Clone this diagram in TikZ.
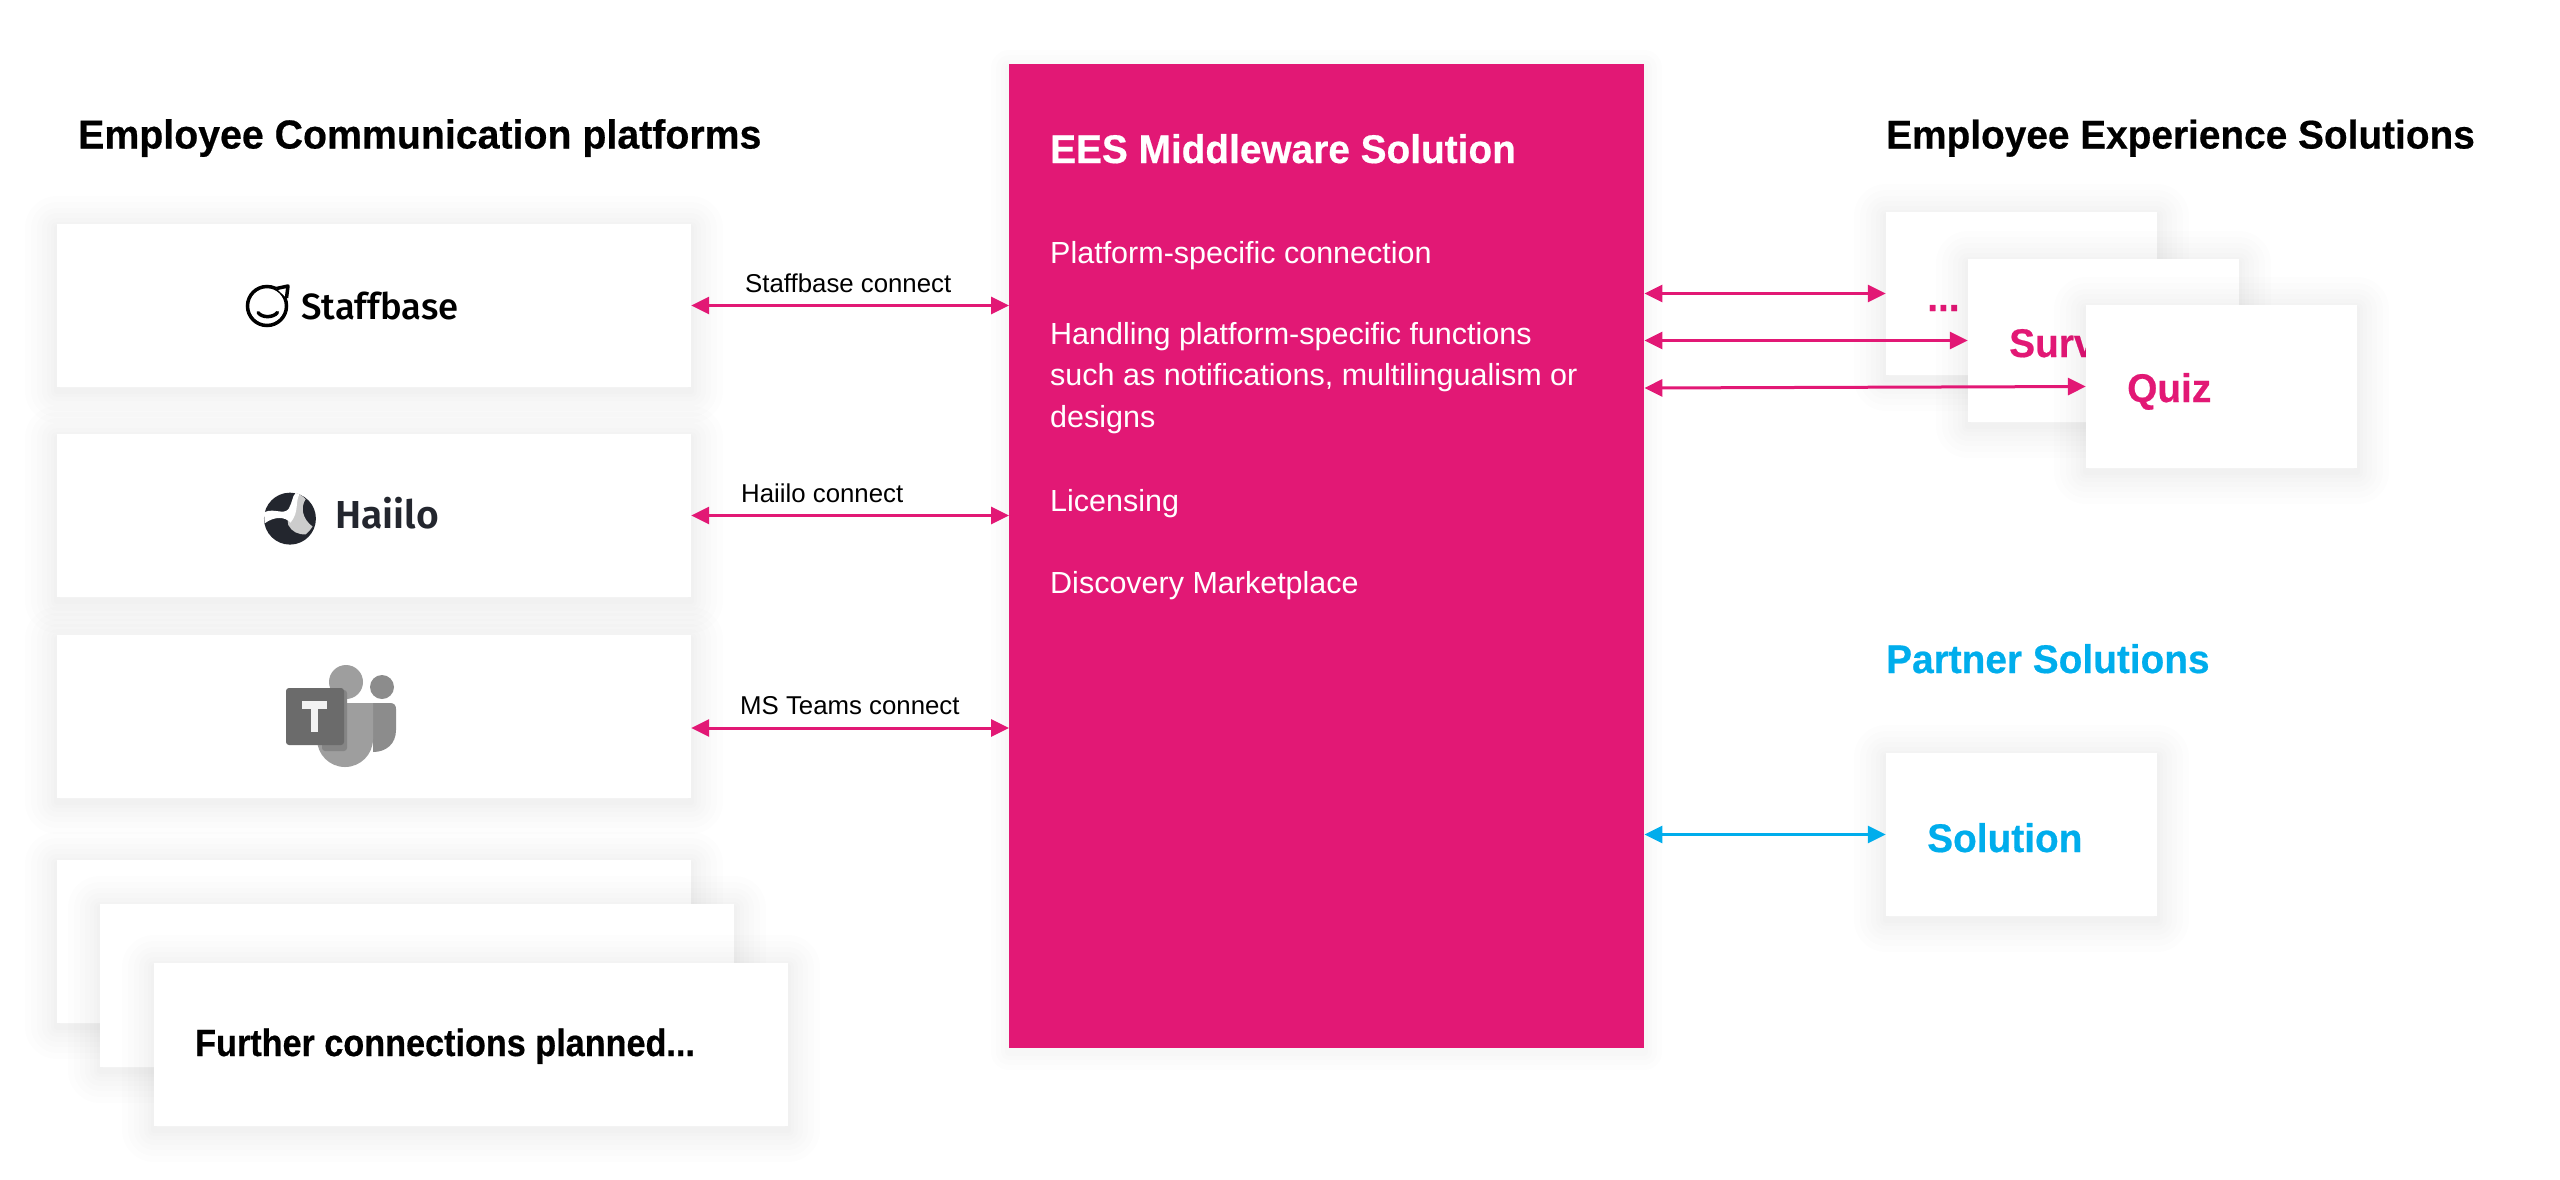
\documentclass[tikz,border=0pt]{standalone}
\usepackage{fontspec}
\usepackage{xcolor}
\usepackage{tikz}
\usetikzlibrary{arrows.meta,positioning}
\setmainfont{Liberation Sans}
\newfontfamily\headfont[FakeStretch=0.97,FakeBold=0.5]{Liberation Sans Bold}
\newfontfamily\furtherfont[FakeStretch=0.9,FakeBold=0.5]{Liberation Sans Bold}
\newfontfamily\logofont{Fira Sans Medium}
\newfontfamily\haiilofont{Fira Sans SemiBold}
\definecolor{eespink}{HTML}{E21875}
\definecolor{eesblue}{HTML}{00ADEC}
\definecolor{haiilodark}{HTML}{23262E}

\begin{document}
\begin{tikzpicture}[
  x=1pt, y=-1pt,
  shade/.style={draw=black, draw opacity=.007, line width=#1, line join=round, transform canvas={yshift=-4pt}},
  softbox/.style={fill=white, minimum width=634pt, minimum height=163pt, inner sep=0pt,
    preaction={shade=64pt}, preaction={shade=52pt}, preaction={shade=40pt}, preaction={shade=30pt},
    preaction={shade=20pt}, preaction={shade=12pt}, preaction={shade=6pt}},
  smallbox/.style={softbox, minimum width=271pt},
  midbox/.style={fill=eespink, anchor=north west, minimum width=635pt, minimum height=984pt, inner sep=0pt,
    preaction={shade=36pt}, preaction={shade=26pt}, preaction={shade=16pt}, preaction={shade=8pt}},
  head/.style={anchor=base west, inner sep=0pt, font=\headfont\fontsize{40.5}{40.5}\selectfont},
  boxtext/.style={head, font=\headfont\fontsize{40}{40}\selectfont},
  midtext/.style={anchor=base west, inner sep=0pt, text=white, font=\fontsize{30.5}{41.5}\selectfont, align=left},
  conlabel/.style={anchor=base west, inner sep=0pt, font=\fontsize{25.8}{25.8}\selectfont},
  arr/.style={{Triangle[length=18pt,width=17pt]}-{Triangle[length=18pt,width=17pt]}, line width=3pt, eespink},
  arrblue/.style={arr, eesblue}
]
  \useasboundingbox (0,0) rectangle (2560,1179);

  % left column
  \node[softbox] (staffbase) at (374,305.5) {};
  \node[softbox] (haiilo) at (374,515.5) {};
  \node[softbox] (teams) at (374,716.5) {};
  \node[softbox] (furthera) at (374,941) {};
  \node[softbox] (furtherb) at (417,985) {};
  \node[softbox] (furtherc) at (471,1044.5) {};

  \node[midbox] (mid) at (1009,64) {};

  % right column
  \node[smallbox] (more) at (2021.5,293.5) {};
  \node[boxtext, text=eespink] (moretext) at (1927,311) {...};
  \node[smallbox] (survey) at (2103.5,340.5) {};
  \node[boxtext, text=eespink] (surveytext) at (2009,357) {Surv};
  \node[smallbox] (quiz) at (2221.5,386.5) {};
  \node[boxtext, text=eespink] (quiztext) at (2127,402) {Quiz};
  \node[smallbox] (solution) at (2021.5,834.5) {};
  \node[boxtext, text=eesblue] (solutiontext) at (1927,852) {Solution};

  % headings
  \node[head] (leftitle) at (78,148.5) {Employee Communication platforms};
  \node[boxtext] (rightitle) at (1886,148.5) {Employee Experience Solutions};
  \node[boxtext, text=eesblue] (partnertitle) at (1886,673) {Partner Solutions};
  \node[head, font=\furtherfont\fontsize{38}{38}\selectfont] (furthertext) at (195,1056) {Further connections planned...};

  % middle text
  \node[boxtext, text=white] (midtitle) at (1050,163) {EES Middleware Solution};
  \node[midtext] (midconn) at (1050,263) {Platform-specific connection};
  \node[midtext] (midfunc) at (1050,427) {Handling platform-specific functions\\such as notifications, multilingualism or\\designs};
  \node[midtext] (midlic) at (1050,511) {Licensing};
  \node[midtext] (middisc) at (1050,593) {Discovery Marketplace};

  % connector labels
  \node[conlabel] (staffcon) at (745,292) {Staffbase connect};
  \node[conlabel] (haiilocon) at (741,502) {Haiilo connect};
  \node[conlabel] (teamscon) at (740,714) {MS Teams connect};

  \draw[arr] (staffbase.east) -- (mid.west |- staffbase.east);
  \draw[arr] (haiilo.east) -- (mid.west |- haiilo.east);
  \coordinate (teamsport) at ([yshift=-11.5pt]teams.east);
  \draw[arr] (teamsport) -- (mid.west |- teamsport);
  \draw[arr] (mid.east |- more.west) -- (more.west);
  \draw[arr] (mid.east |- survey.west) -- (survey.west);
  \coordinate (quizport) at ([yshift=-1.5pt]mid.east |- quiz.west);
  \draw[arr] (quizport) -- (quiz.west);
  \draw[arrblue] (mid.east |- solution.west) -- (solution.west);

  % logos
  \draw[line width=3.5pt] (267,306) circle (19.5pt);
  \draw[line width=3.5pt, fill=white, line join=round] (276.5,288.5) -- (288,286) -- (286.5,298);
  \draw[line width=3.5pt, line cap=round] (258,312.5) .. controls (262,318) and (273,318) .. (277.5,312.5);
  \node[anchor=base west, inner sep=0pt, font=\logofont\fontsize{36.5}{36.5}\selectfont] (stafflogo) at (301,319) {Staffbase};

  \begin{scope}[shift={(250,480)}, x=.333pt, y=-.333pt]
    \fill[haiilodark] (120,116) circle (78);
    \fill[gray!40] (137,39) .. controls (150,42) and (160,50) .. (167,58) .. controls (152,80) and (155,115) .. (188,140)
      .. controls (180,150) and (175,158) .. (168,163) .. controls (145,165) and (125,155) .. (115,135) -- (110,100) -- cycle;
    \fill[white] (42,97) .. controls (75,82) and (100,108) .. (118,85) .. controls (128,70) and (125,50) .. (137,39)
      -- (148,43) .. controls (135,70) and (148,95) .. (122,128) .. controls (105,110) and (75,108) .. (44,130) -- cycle;
  \end{scope}
  \node[anchor=base west, inner sep=0pt, text=haiilodark, font=\haiilofont\fontsize{39}{39}\selectfont] (haiilologo) at (335,528) {Haiilo};

  \fill[black!45] (382,687) circle (12pt);
  \fill[black!45] (373,703) -- (390,703) .. controls (394,703) and (396,705) .. (396,709) -- (396,730)
    .. controls (396,744) and (386,752) .. (373,752) -- cycle;
  \fill[black!38] (346,682) circle (17pt);
  \fill[black!38] (325,703) -- (373,703) -- (373,739) arc (0:180:28pt and -28pt) -- (317,720) -- cycle;
  \fill[rounded corners=3pt, black!48] (322,690) rectangle (347,751);
  \fill[rounded corners=3pt, black!58] (286,688) rectangle (344,745);
  \fill[white!95!black] (301.7,701) rectangle (326.7,709.3);
  \fill[white!95!black] (310.5,701) rectangle (318,731.7);
\end{tikzpicture}
\end{document}
